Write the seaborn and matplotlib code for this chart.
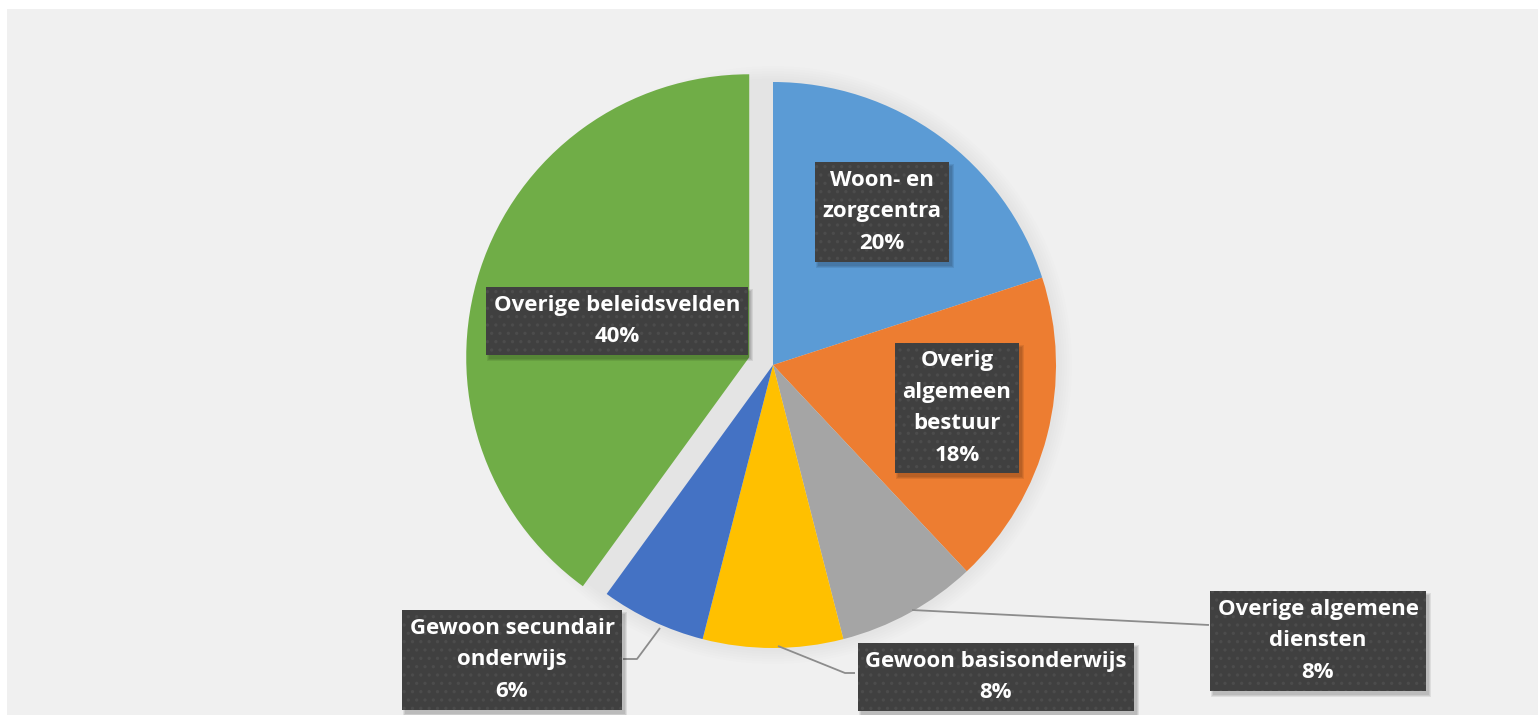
import matplotlib
matplotlib.use("Agg")
import matplotlib.pyplot as plt
import seaborn as sns
from matplotlib.patches import Rectangle, Circle

sns.set_style("white")
plt.rcParams['font.family'] = ['Open Sans', 'DejaVu Sans']
plt.rcParams['hatch.linewidth'] = 1.2

categories = ["Woon- en zorgcentra", "Overig algemeen bestuur", "Overige algemene diensten",
              "Gewoon basisonderwijs", "Gewoon secundair onderwijs", "Overige beleidsvelden"]
label_text = ["Woon- en\nzorgcentra", "Overig\nalgemeen\nbestuur", "Overige algemene\ndiensten",
              "Gewoon basisonderwijs", "Gewoon secundair\nonderwijs", "Overige beleidsvelden"]
values = [20, 18, 8, 8, 6, 40]
colors = ["#5b9bd5", "#ed7d31", "#a5a5a5", "#ffc000", "#4472c4", "#70ad47"]
explode_px = [0, 0, 0, 0, 0, 25]

W, H = 1538, 715
fig = plt.figure(figsize=(W / 100, H / 100), dpi=100)
fig.patch.set_facecolor("white")
ax = fig.add_axes([0, 0, 1, 1])

# chart area background
ax.add_patch(Rectangle((7, -5), W, H - 9 + 5, facecolor="#f0f0f0", edgecolor="none", zorder=0))

cx, cy, R = 773, H - 365, 283
# soft glow around pie
for i in range(6):
    ax.add_patch(Circle((cx, cy), R + 16 - 2.5 * i, facecolor="#000000", alpha=0.009,
                        edgecolor="none", zorder=1))

wedges, _ = ax.pie(values, colors=colors, startangle=90, counterclock=False,
                   center=(cx, cy), radius=R, explode=explode_px,
                   wedgeprops=dict(linewidth=0), frame=True)
for w in wedges:
    w.set_zorder(2)
ax.set_xlim(0, W)
ax.set_ylim(0, H)
ax.set_aspect("equal")
ax.axis("off")

def P(x, y):
    return (x, H - y)

leaders = [
    [P(912, 610), P(1209, 625)],
    [P(778, 646), P(845, 673), P(855, 673)],
    [P(660, 628), P(637, 659), P(623, 659)],
]
for pts in leaders:
    xs, ys = zip(*pts)
    ax.plot(xs, ys, color="#8c8c8c", lw=1.3, zorder=3, solid_capstyle="butt")

label_pos = [P(882, 212), P(957, 408), P(1318, 641), P(996, 677), P(512, 660), P(617, 321)]
texts = []
for txt, v, (x, y) in zip(label_text, values, label_pos):
    t = ax.text(x, y, f"{txt}\n{v}%", ha="center", va="center", multialignment="center",
                color="white", fontsize=16, fontweight="bold", linespacing=1.66, zorder=6,
                bbox=dict(boxstyle="square,pad=0.34", facecolor="#404040", edgecolor="#4c4c4c",
                          linewidth=0, hatch=".."))
    texts.append(t)

# soft shadows behind the label boxes
fig.canvas.draw()
inv = ax.transData.inverted()
for t in texts:
    bb = t.get_bbox_patch().get_window_extent()
    (x0, y0), (x1, y1) = inv.transform([(bb.x0, bb.y0), (bb.x1, bb.y1)])
    for g in range(3):
        ax.add_patch(Rectangle((x0 + 3 - g, y0 - 4 - g), (x1 - x0) + 2 * g, (y1 - y0) + 2 * g,
                               facecolor="#000000", alpha=0.08, edgecolor="none", zorder=5))

fig.savefig("out.png", dpi=100, facecolor=fig.get_facecolor())
